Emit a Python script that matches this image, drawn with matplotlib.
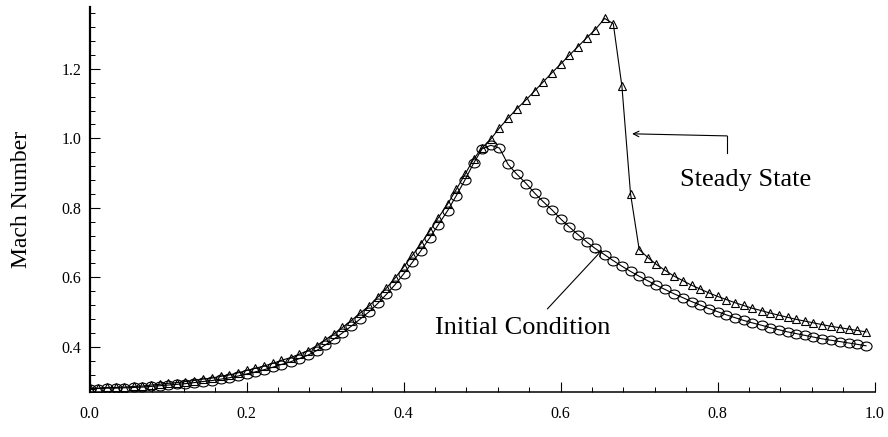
import numpy as np
import matplotlib
matplotlib.use("Agg")
import matplotlib.pyplot as plt
from matplotlib.path import Path
from matplotlib.transforms import Affine2D
from matplotlib.ticker import MultipleLocator, FormatStrFormatter

#
# data (nozzle axis x, Mach number)
#
x_pos = [0.000, 0.011, 0.022, 0.033, 0.044, 0.056, 0.067, 0.078, 0.089, 0.100,
         0.111, 0.122, 0.133, 0.144, 0.156, 0.167, 0.178, 0.189, 0.200, 0.211,
         0.222, 0.233, 0.244, 0.256, 0.267, 0.278, 0.289, 0.300, 0.311, 0.322,
         0.333, 0.344, 0.356, 0.367, 0.378, 0.389, 0.400, 0.411, 0.422, 0.433,
         0.444, 0.456, 0.467, 0.478, 0.489, 0.500, 0.511, 0.522, 0.533, 0.544,
         0.556, 0.567, 0.578, 0.589, 0.600, 0.611, 0.622, 0.633, 0.644, 0.656,
         0.667, 0.678, 0.689, 0.700, 0.711, 0.722, 0.733, 0.744, 0.756, 0.767,
         0.778, 0.789, 0.800, 0.811, 0.822, 0.833, 0.844, 0.856, 0.867, 0.878,
         0.889, 0.900, 0.911, 0.922, 0.933, 0.944, 0.956, 0.967, 0.978, 0.989]

mach_initial = [0.280, 0.280, 0.281, 0.281, 0.282, 0.283, 0.284, 0.286, 0.288, 0.290,
                0.292, 0.294, 0.297, 0.300, 0.303, 0.307, 0.311, 0.316, 0.322, 0.328,
                0.334, 0.341, 0.349, 0.357, 0.366, 0.376, 0.389, 0.405, 0.422, 0.440,
                0.459, 0.479, 0.501, 0.525, 0.551, 0.579, 0.610, 0.643, 0.677, 0.713,
                0.751, 0.792, 0.835, 0.880, 0.928, 0.970, 0.980, 0.972, 0.925, 0.897,
                0.870, 0.842, 0.817, 0.794, 0.768, 0.745, 0.723, 0.702, 0.683, 0.665,
                0.648, 0.632, 0.617, 0.603, 0.590, 0.577, 0.565, 0.553, 0.541, 0.530,
                0.520, 0.510, 0.501, 0.492, 0.484, 0.476, 0.469, 0.462, 0.455, 0.449,
                0.443, 0.438, 0.433, 0.428, 0.423, 0.419, 0.415, 0.411, 0.407, 0.403]

mach_steady = [0.281, 0.281, 0.283, 0.283, 0.284, 0.286, 0.287, 0.290, 0.292, 0.295,
               0.297, 0.300, 0.303, 0.307, 0.310, 0.315, 0.319, 0.325, 0.332, 0.338,
               0.345, 0.352, 0.361, 0.369, 0.379, 0.389, 0.403, 0.420, 0.437, 0.456,
               0.475, 0.496, 0.518, 0.543, 0.569, 0.598, 0.630, 0.663, 0.697, 0.733,
               0.771, 0.811, 0.853, 0.896, 0.940, 0.973, 0.998, 1.030, 1.058, 1.085,
               1.111, 1.137, 1.163, 1.189, 1.214, 1.239, 1.264, 1.289, 1.313, 1.345,
               1.330, 1.150, 0.840, 0.680, 0.657, 0.637, 0.620, 0.604, 0.590, 0.577,
               0.566, 0.555, 0.545, 0.536, 0.527, 0.519, 0.511, 0.504, 0.497, 0.491,
               0.485, 0.479, 0.474, 0.469, 0.464, 0.459, 0.455, 0.451, 0.447, 0.443]

x_ticks = [0.0, 0.2, 0.4, 0.6, 0.8, 1.0]
y_ticks = [0.4, 0.6, 0.8, 1.0, 1.2]

#
# style
#
plt.rcParams['font.family'] = ['Liberation Serif', 'DejaVu Serif']

# circles in the scan are a bit flattened
ellipse = Path.unit_circle().transformed(Affine2D().scale(1.0, 0.8))

fig = plt.figure(figsize=(8.88, 4.37), dpi=100)
ax = fig.add_axes([0.101, 0.103, 0.884, 0.881])

ax.plot(x_pos, mach_initial, color='black', lw=0.8, marker=ellipse, ms=8,
        mfc='none', mec='black', mew=0.8)
ax.plot(x_pos, mach_steady, color='black', lw=0.8, marker='^', ms=6,
        mfc='none', mec='black', mew=0.8)

ax.set_xlim(0, 1.0)
ax.set_ylim(0.27, 1.378)

ax.xaxis.set_minor_locator(MultipleLocator(0.04))
ax.yaxis.set_minor_locator(MultipleLocator(0.04))
ax.set_xticks(x_ticks)
ax.set_yticks(y_ticks)
ax.xaxis.set_major_formatter(FormatStrFormatter('%.1f'))
ax.yaxis.set_major_formatter(FormatStrFormatter('%.1f'))

ax.tick_params(which='major', direction='in', length=7, width=0.8, labelsize=11.5)
ax.tick_params(which='minor', direction='in', length=3.5, width=0.7)
ax.tick_params(axis='x', which='major', pad=10)
ax.tick_params(axis='y', which='major', pad=6)

for side in ['top', 'right']:
    ax.spines[side].set_visible(False)
ax.spines['left'].set_linewidth(1.6)
ax.spines['bottom'].set_linewidth(1.1)

ax.set_ylabel('Mach Number', fontsize=17)
ax.yaxis.set_label_coords(-0.074, 0.5)

#
# annotations
#
ax.text(0.835, 0.88, 'Steady State', fontsize=19, ha='center', va='center')
ax.plot([0.812, 0.812], [0.958, 1.007], color='black', lw=0.8)
ax.annotate('', xy=(0.691, 1.013), xytext=(0.812, 1.007),
            arrowprops=dict(arrowstyle='->', lw=0.8, color='black',
                            shrinkA=0, shrinkB=0))

ax.text(0.551, 0.455, 'Initial Condition', fontsize=19, ha='center', va='center')
ax.annotate('', xy=(0.653, 0.679), xytext=(0.583, 0.509),
            arrowprops=dict(arrowstyle='->', lw=0.8, color='black',
                            shrinkA=0, shrinkB=0))

fig.savefig('out.png', dpi=100)
